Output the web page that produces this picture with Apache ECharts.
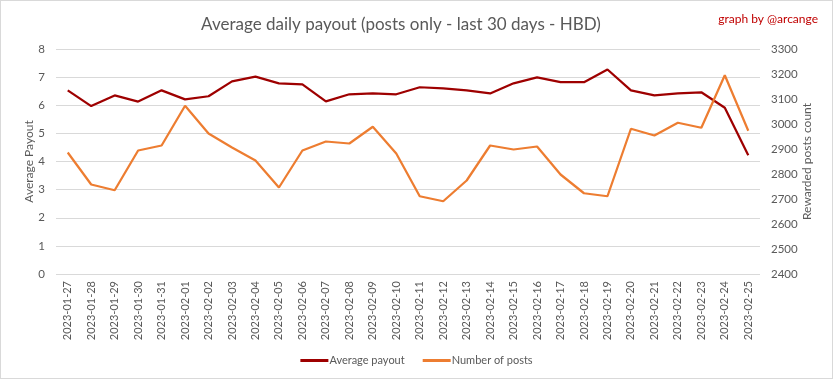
<!DOCTYPE html>
<html>
<head>
<meta charset="utf-8">
<script src="https://cdn.jsdelivr.net/npm/echarts@6/dist/echarts.min.js"></script>
<style>
html,body{margin:0;padding:0;background:#fff;}
#chart{width:833px;height:379px;box-sizing:border-box;border:1px solid #d9d9d9;}
</style>
</head>
<body>
<div id="chart"></div>
<script>
const categories = ["2023-01-27","2023-01-28","2023-01-29","2023-01-30","2023-01-31","2023-02-01","2023-02-02","2023-02-03","2023-02-04","2023-02-05","2023-02-06","2023-02-07","2023-02-08","2023-02-09","2023-02-10","2023-02-11","2023-02-12","2023-02-13","2023-02-14","2023-02-15","2023-02-16","2023-02-17","2023-02-18","2023-02-19","2023-02-20","2023-02-21","2023-02-22","2023-02-23","2023-02-24","2023-02-25"];
const averagePayout = [6.53,5.97,6.35,6.13,6.53,6.21,6.32,6.85,7.02,6.78,6.74,6.14,6.39,6.42,6.39,6.64,6.60,6.53,6.42,6.78,6.99,6.82,6.82,7.27,6.53,6.35,6.42,6.46,5.91,4.22];
const numberOfPosts = [2886,2758,2735,2894,2914,3073,2962,2906,2854,2746,2894,2930,2922,2989,2882,2711,2691,2774,2914,2898,2910,2798,2723,2711,2981,2954,3005,2985,3195,2973];
const leftTicks = {min:0, max:8, interval:1};
const rightTicks = {min:2400, max:3300, interval:100};

const chart = echarts.init(document.getElementById('chart'), null, {renderer:'canvas'});
const txt = '#595959';
const font = 'Lato, "Open Sans", sans-serif';
chart.setOption({
  animation:false,
  title:[{
    text:'Average daily payout (posts only - last 30 days - HBD)',
    left:395, top:10, textAlign:'center',
    textStyle:{color:txt, fontSize:17, fontWeight:'normal', fontFamily:font}
  },{
    text:'graph by @arcange', right:9, top:7,
    textStyle:{color:'#c00000', fontSize:12, fontWeight:'normal', fontFamily:font}
  }],
  legend:{
    bottom:7, left:'center', itemWidth:28, itemHeight:3, itemGap:18,
    icon:'rect',
    textStyle:{color:txt, fontSize:11, fontFamily:font, padding:[0,0,0,-4]},
    data:['Average payout','Number of posts']
  },
  grid:{left:55, right:72, top:48, bottom:104},
  xAxis:{
    type:'category', data:categories, boundaryGap:true,
    axisLine:{show:false}, axisTick:{show:false},
    axisLabel:{rotate:90, color:txt, fontSize:11, fontFamily:font, margin:7, interval:0}
  },
  yAxis:[{
    type:'value', min:leftTicks.min, max:leftTicks.max, interval:leftTicks.interval,
    name:'Average Payout', nameLocation:'middle', nameGap:21, nameRotate:90, nameMoveOverlap:false,
    nameTextStyle:{color:txt, fontSize:12, fontFamily:font},
    axisLine:{show:false}, axisTick:{show:false},
    axisLabel:{color:txt, fontSize:11.5, fontFamily:font, margin:11},
    splitLine:{lineStyle:{color:'#d9d9d9', width:1}}
  },{
    type:'value', min:rightTicks.min, max:rightTicks.max, interval:rightTicks.interval,
    name:'Rewarded posts count', nameLocation:'middle', nameGap:41, nameRotate:90, nameMoveOverlap:false,
    nameTextStyle:{color:txt, fontSize:12, fontFamily:font},
    axisLine:{show:false}, axisTick:{show:false},
    axisLabel:{color:txt, fontSize:11.5, fontFamily:font, margin:11, formatter:function(v){return String(v);}},
    splitLine:{show:false}
  }],
  series:[{
    name:'Average payout', type:'line', data:averagePayout, yAxisIndex:0,
    showSymbol:false, symbol:'none', color:'#9e0000',
    lineStyle:{width:2.25, color:'#9e0000'}
  },{
    name:'Number of posts', type:'line', data:numberOfPosts, yAxisIndex:1,
    showSymbol:false, symbol:'none', color:'#ed7d31',
    lineStyle:{width:2.25, color:'#ed7d31'}
  }]
});
</script>
</body>
</html>
